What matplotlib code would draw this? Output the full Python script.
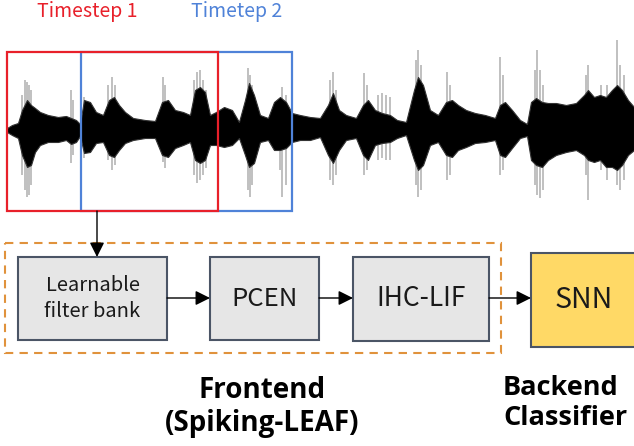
import matplotlib
matplotlib.use("Agg")
import matplotlib.pyplot as plt
from matplotlib.patches import Rectangle

# ---- data: waveform envelope knots (amplitudes in px above / below centre) ----
wave_x = [7, 12, 18, 22, 27, 31, 35, 40, 48, 58, 66, 71, 76, 80, 84, 90, 96, 103,
          109, 114, 119, 125, 133, 145, 155, 162, 168, 175, 183, 190, 195, 200, 205,
          210, 216, 224, 232, 239, 245, 249, 254, 260, 268, 274, 280, 286, 292, 300,
          310, 320, 328, 333, 339, 346, 356, 363, 368, 375, 382, 390, 397, 406, 414,
          418, 423, 430, 438, 446, 452, 458, 466, 475, 485, 495, 500, 505, 512, 520,
          527, 531, 536, 542, 548, 556, 566, 576, 584, 588, 594, 600, 606, 612, 617,
          622, 628, 634]
core_up = [2, 5, 7, 20, 30, 25, 22, 18, 15, 13, 14, 12, 10, 6, 30, 28, 18, 15,
           30, 33, 25, 18, 12, 10, 9, 28, 30, 20, 18, 15, 40, 43, 38,
           15, 18, 23, 20, 8, 30, 47, 35, 15, 12, 28, 33, 28, 17, 15,
           13, 12, 25, 37, 20, 15, 12, 25, 30, 20, 17, 15, 10, 8, 40,
           53, 45, 20, 15, 28, 30, 25, 20, 17, 15, 12, 25, 28, 20, 10,
           6, 28, 32, 28, 27, 27, 25, 27, 35, 40, 33, 35, 33, 40, 45,
           40, 30, 23]
core_dn = [2, 5, 8, 25, 37, 35, 22, 15, 12, 12, 10, 14, 12, 6, 23, 22, 13, 12,
           25, 27, 20, 13, 10, 8, 8, 25, 27, 18, 15, 12, 30, 33, 30,
           15, 15, 17, 15, 8, 25, 37, 33, 12, 10, 20, 20, 18, 12, 10,
           10, 7, 25, 33, 20, 10, 8, 25, 30, 15, 13, 12, 8, 5, 30,
           40, 35, 15, 12, 25, 27, 20, 17, 13, 12, 10, 25, 27, 18, 8,
           6, 30, 35, 37, 30, 25, 22, 20, 25, 30, 32, 30, 37, 37, 40,
           35, 25, 20]

# thin spikes (lighter needles) sticking out of the bursts
spike_x = [22, 25, 27, 29, 31, 71, 73, 84, 108, 112, 115, 163, 165,
           194, 197, 200, 203, 206, 248, 250, 252, 280, 282, 286,
           330, 333, 336, 364, 367, 378, 382, 386, 390, 416, 418, 421,
           447, 450, 500, 503, 535, 537, 540, 543, 586, 588, 601, 607,
           617, 620, 624]
spike_up = [35, 50, 48, 45, 40, 40, 30, 33, 45, 53, 45, 53, 45,
            50, 58, 60, 50, 40, 62, 55, 45, 30, 43, 35,
            50, 58, 40, 57, 45, 35, 37, 35, 33, 70, 80, 65,
            58, 45, 73, 55, 60, 80, 60, 45, 55, 65, 45, 45,
            90, 65, 55]
spike_dn = [45, 60, 67, 65, 55, 33, 25, 28, 30, 40, 35, 32, 38,
            45, 53, 50, 45, 38, 60, 67, 55, 40, 67, 55,
            50, 55, 45, 45, 40, 30, 28, 30, 30, 55, 67, 60,
            50, 45, 45, 40, 55, 65, 68, 60, 45, 70, 40, 50,
            55, 60, 50]

window_labels = ["Timestep 1", "Timetep 2"]
block_labels = ["Learnable\nfilter bank", "PCEN", "IHC-LIF"]
backend_label = "SNN"
frontend_caption = "Frontend\n(Spiking-LEAF)"
backend_caption = "Backend\nClassifier"

RED = "#e8202a"
BLUE = "#4f82d8"
EDGE = "#4b5566"
GRAYFILL = "#e6e6e6"
YELLOW = "#ffd966"
ORANGE = "#e0923c"

REG = ["Noto Sans CJK SC", "DejaVu Sans"]
BOLD = ["Open Sans", "DejaVu Sans"]

fig = plt.figure(figsize=(6.34, 4.46), dpi=100)
ax = fig.add_axes([0, 0, 1, 1])
ax.set_xlim(0, 634)
ax.set_ylim(446, 0)
ax.axis("off")

# waveform
c = 130
ax.vlines(spike_x, [c - v for v in spike_up], [c + v for v in spike_dn],
          color="#7a7a7a", lw=1.1, alpha=0.6, zorder=1)
ax.fill_between(wave_x, [c - v for v in core_up], [c + v for v in core_dn],
                color="black", ec="#333333", lw=0.8, zorder=2)

# windows
ax.add_patch(Rectangle((81, 52), 211, 159, fill=False, ec=BLUE, lw=1.6, zorder=3))
ax.add_patch(Rectangle((7, 52), 211, 159, fill=False, ec=RED, lw=1.6, zorder=4))
ax.text(87, 11, window_labels[0], color=RED, fontsize=14, family=REG,
        ha="center", va="center")
ax.text(237, 11, window_labels[1], color=BLUE, fontsize=14, family=REG,
        ha="center", va="center")

# dashed frontend frame
ax.add_patch(Rectangle((5, 243), 496, 110, fill=False, ec=ORANGE, lw=1.5,
                       ls=(0, (4, 3)), zorder=3))

# blocks
blocks = [(18, 257, 149, 83), (210, 257, 109, 83), (353, 257, 136, 84)]
sizes = [14.5, 18.5, 19]
for (x, y, w, h), lab, fs in zip(blocks, block_labels, sizes):
    ax.add_patch(Rectangle((x, y), w, h, fc=GRAYFILL, ec=EDGE, lw=1.5, zorder=4))
    ax.text(x + w / 2, y + h / 2, lab, fontsize=fs, family=REG, color="#1a1a1a",
            ha="center", va="center", linespacing=1.3, zorder=5)

ax.add_patch(Rectangle((531, 253), 110, 94, fc=YELLOW, ec=EDGE, lw=1.5, zorder=4))
ax.text(584, 300, backend_label, fontsize=20.5, family=REG, color="#1a1a1a",
        ha="center", va="center", zorder=5)

# arrows
def arrow(x0, y0, x1, y1):
    ax.annotate("", xy=(x1, y1), xytext=(x0, y0),
                arrowprops=dict(arrowstyle="-|>", color="black", lw=1,
                                mutation_scale=22, shrinkA=0, shrinkB=0),
                zorder=6)

arrow(97, 211, 97, 257)
arrow(167, 298, 210, 298)
arrow(319, 298, 353, 298)
arrow(489, 298, 531, 298)

# captions
ax.text(262, 407, frontend_caption, fontsize=20, family=BOLD, weight="bold",
        ha="center", va="center", linespacing=1.22)
ax.text(503, 403, backend_caption, fontsize=19.5, family=BOLD, weight="bold",
        ha="left", va="center", linespacing=1.2)

fig.savefig("out.png", dpi=100)
